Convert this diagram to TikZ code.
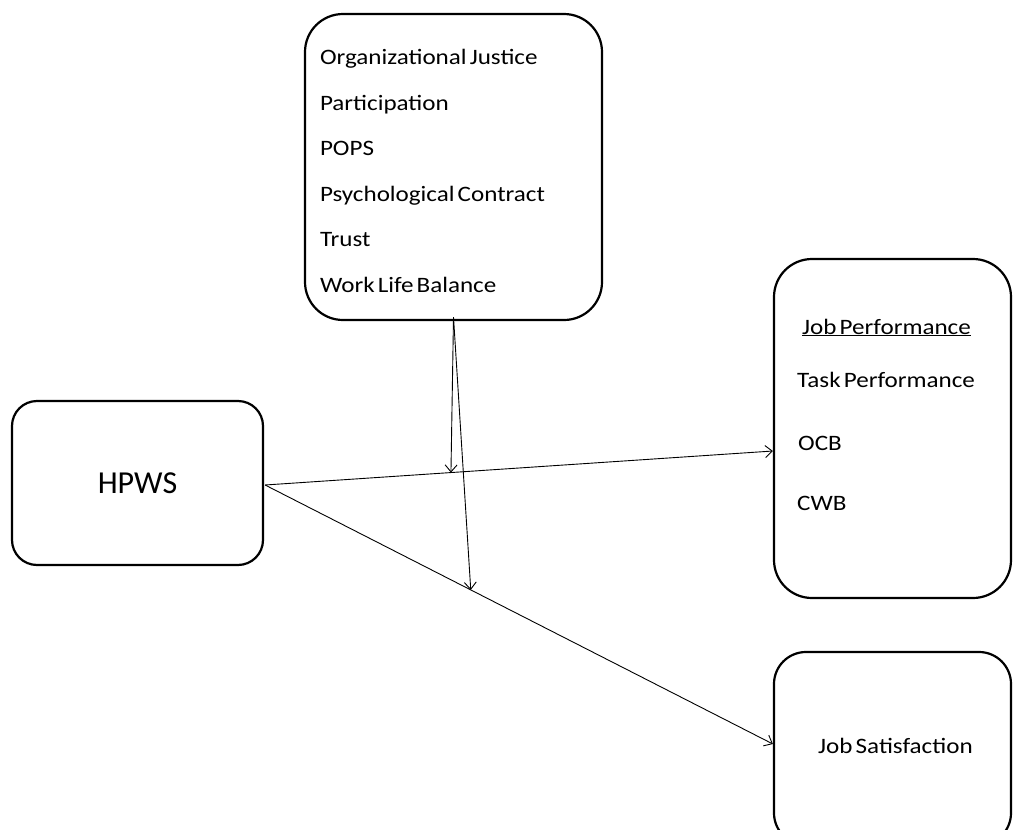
\documentclass[tikz,border=0pt]{standalone}
\usepackage{fontspec}
\setmainfont{Carlito}
\newfontfamily\boxfont[FakeStretch=1.14, WordSpace=0.55]{Carlito}
\usetikzlibrary{arrows.meta,calc}

\begin{document}
\begin{tikzpicture}[x=1pt,y=-1pt,
  box/.style={draw, line width=2.2pt, rounded corners=#1, inner sep=0pt},
  box/.default=35pt,
  item/.style={font=\boxfont\fontsize{22}{24}\selectfont, anchor=base west, inner sep=0pt},
  link/.style={line width=0.9pt, -{Straight Barb[length=7pt,width=12pt,line width=0.9pt]}},
]
\useasboundingbox (0,0) rectangle (1013,830);

% moderators
\node[box=38pt, minimum width=297pt, minimum height=306pt] (mod) at (453.5,167) {};
\node[text width=267pt, align=flush left, inner sep=0pt,
      font=\boxfont\fontsize{22}{45.6}\selectfont] (modlist) at ([yshift=-4pt]mod.center)
  {Organizational Justice\\Participation\\POPS\\Psychological Contract\\Trust\\Work Life Balance};

% predictor
\node[box=25pt, minimum width=251pt, minimum height=164pt,
      font=\fontsize{32}{36}\selectfont] (hpws) at (137.5,483) {HPWS};

% outcome: job performance
\node[box=38pt, minimum width=237pt, minimum height=339pt] (jp) at (892.5,428.5) {};
\node[item] (jptitle) at (802,334) {\underline{Job Performance}};
\node[item] (task) at (797,387) {Task Performance};
\node[item] (ocb) at (798,450) {OCB};
\node[item] (cwb) at (797,510) {CWB};

% outcome: job satisfaction
\node[box=32pt, minimum width=237pt, minimum height=193pt] (js) at (892.5,748.5) {};
\node[item] (jstext) at (818,753) {Job Satisfaction};

% direct paths
\coordinate (start) at ([xshift=1pt,yshift=-2pt]hpws.east);
\coordinate (jpin) at ([yshift=-22.5pt]jp.west);
\coordinate (jsin) at ([yshift=4.5pt]js.west);
\draw[link] (start) -- (jpin);
\draw[link] (start) -- (jsin);

% moderating paths
\coordinate (m1) at ($(start)!0.366!(jpin)$);
\coordinate (m2) at ($(start)!0.405!(jsin)$);
\draw[link] ([yshift=4pt]mod.south) -- (m1);
\draw[link] ([yshift=4pt]mod.south) -- (m2);
\end{tikzpicture}
\end{document}
